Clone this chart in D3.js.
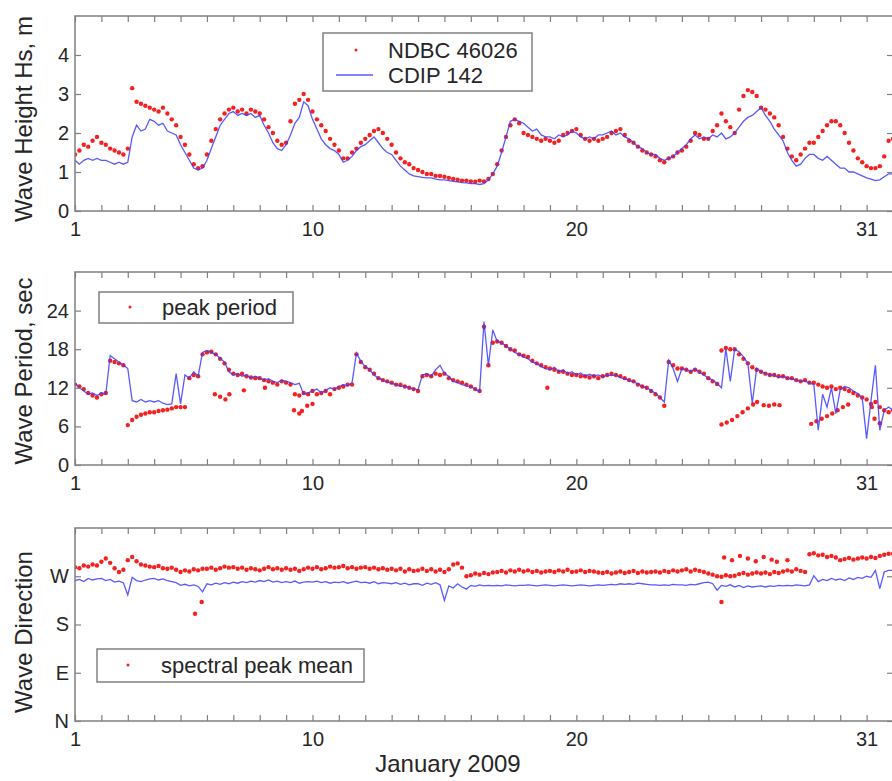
<!DOCTYPE html>
<html>
<head>
<meta charset="utf-8">
<script src="https://cdn.jsdelivr.net/npm/d3@7"></script>
<style>
  body { margin: 0; background: #fff; }
  svg { display: block; font-family: "Liberation Sans", Arial, sans-serif; }
</style>
</head>
<body>
<div id="chart"></div>
<script>
// January 2009, values every 4 hours (6 per day) starting Jan 1 00:00
var stepDays = 1 / 6;

// significant wave height, m
var hsNdbc = [
  1.45,1.55,1.7,1.65,1.8,1.9,  1.75,1.7,1.6,1.55,1.5,1.45,  1.6,3.15,2.8,2.75,2.7,2.65,
  2.6,2.55,2.65,2.5,2.35,2.2,  1.9,1.7,1.45,1.2,1.1,1.15,  1.45,1.8,2.1,2.35,2.5,2.6,
  2.65,2.55,2.6,2.5,2.6,2.55,  2.5,2.35,2.15,2.0,1.8,1.7,  1.75,2.3,2.75,2.85,3.0,2.85,
  2.55,2.35,2.2,2.05,1.85,1.7,  1.55,1.35,1.35,1.5,1.6,1.75,  1.85,1.95,2.05,2.1,2.0,1.85,
  1.7,1.5,1.35,1.25,1.2,1.1,  1.05,1.0,0.95,0.95,0.9,0.9,  0.88,0.85,0.82,0.8,0.78,0.78,
  0.76,0.75,0.78,0.76,0.82,0.95,  1.2,1.55,1.9,2.2,2.35,2.25,  2.0,1.95,1.9,1.85,1.8,1.85,
  1.8,1.75,1.8,1.95,2.0,2.05,  2.1,1.95,1.85,1.8,1.85,1.8,  1.85,1.9,2.0,2.05,2.1,1.95,
  1.8,1.75,1.65,1.55,1.5,1.45,  1.4,1.3,1.25,1.35,1.4,1.5,  1.55,1.65,1.8,2.0,1.95,1.85,
  1.85,2.05,2.2,2.5,2.3,2.15,  2.0,2.6,2.95,3.1,3.05,2.95,  2.65,2.6,2.5,2.4,2.2,1.9,
  1.6,1.4,1.3,1.45,1.6,1.75,  1.75,1.9,2.05,2.2,2.3,2.3,  2.2,2.0,1.75,1.55,1.35,1.25,
  1.15,1.1,1.1,1.15,1.4,1.8,  1.85
];
var hsCdip = [
  1.3,1.2,1.3,1.35,1.3,1.35,  1.3,1.3,1.25,1.2,1.25,1.2,  1.25,1.9,2.2,2.05,2.1,2.35,
  2.3,2.2,2.25,2.05,2.0,1.95,  1.7,1.5,1.3,1.1,1.05,1.1,  1.3,1.6,1.9,2.2,2.35,2.5,
  2.55,2.45,2.5,2.45,2.5,2.4,  2.45,2.2,2.0,1.75,1.6,1.55,  1.7,1.95,2.25,2.4,2.8,2.7,
  2.35,2.1,1.85,1.7,1.6,1.55,  1.45,1.25,1.3,1.4,1.55,1.65,  1.7,1.8,1.9,1.75,1.6,1.5,
  1.45,1.3,1.15,1.05,0.95,0.9,  0.88,0.86,0.85,0.85,0.82,0.8,  0.8,0.78,0.76,0.75,0.73,0.72,
  0.7,0.7,0.68,0.7,0.8,0.95,  1.15,1.5,1.9,2.3,2.35,2.3,  2.25,2.15,2.05,2.1,1.95,1.9,
  1.9,1.85,1.95,1.9,1.95,2.05,  2.0,1.9,1.85,1.9,1.85,1.95,  1.95,2.0,2.05,1.95,2.0,1.9,
  1.85,1.75,1.65,1.6,1.5,1.45,  1.45,1.35,1.3,1.35,1.4,1.5,  1.6,1.7,1.85,1.95,1.85,1.9,
  1.85,1.95,1.9,2.0,1.85,1.9,  2.0,2.15,2.3,2.4,2.45,2.55,  2.65,2.45,2.3,2.1,1.95,1.8,
  1.5,1.3,1.15,1.2,1.35,1.45,  1.45,1.35,1.3,1.4,1.3,1.2,  1.1,1.1,1.0,1.0,0.95,0.9,
  0.85,0.82,0.78,0.8,0.88,0.95,  0.95
];

// peak period, sec
var tpNdbc = [
  12.5,12.2,11.8,11.2,10.8,10.5,  11.0,11.2,16.2,16.0,15.8,15.5,  6.2,7.0,7.5,7.8,8.0,8.2,
  8.2,8.4,8.5,8.6,8.8,9.0,  9.0,9.0,13.5,14.0,13.8,17.2,  17.5,17.6,17.2,16.5,15.8,14.8,
  14.2,14.0,14.2,13.8,13.6,13.5,  13.5,13.2,13.0,12.8,12.5,13.0,  12.8,12.5,11.0,10.8,11.2,11.0,
  11.5,11.0,11.2,11.5,11.0,11.8,  12.0,12.2,12.5,12.5,17.2,16.0,  15.2,14.8,14.2,13.5,13.2,13.0,
  12.8,12.5,12.5,12.2,12.0,11.8,  11.5,13.8,14.0,13.8,14.2,14.0,  14.2,13.5,13.2,13.0,12.8,12.5,
  12.2,11.8,11.5,21.5,15.5,19.0,  19.2,19.0,18.5,18.0,17.8,17.2,  17.0,16.8,16.2,15.8,15.5,15.2,
  15.0,14.8,14.5,14.5,14.2,14.0,  14.0,13.8,13.8,13.6,13.8,13.5,  13.8,14.0,14.2,14.0,13.8,13.5,
  13.2,13.0,12.5,12.2,12.0,11.5,  11.0,10.5,9.2,16.0,15.5,15.0,  15.0,14.8,14.5,14.8,14.5,14.2,
  13.5,13.0,12.6,17.8,18.2,18.0,  18.0,17.2,16.5,15.8,15.2,14.8,  14.5,14.2,14.0,14.0,13.8,13.8,
  13.5,13.5,13.2,13.0,13.2,12.8,  12.8,12.5,12.2,12.0,12.2,11.8,  12.0,11.8,11.5,11.2,10.8,10.5,
  10.2,9.5,9.8,9.0,8.5,8.2,  8.5
];
var tpNdbcExtra = [
  [6.3,11.0],[6.5,10.6],[6.7,10.2],[6.85,11.0],[7.4,11.6],[8.2,12.0],
  [9.3,8.5],[9.5,8.0],[9.6,8.4],[9.8,9.2],[10.0,9.5],[18.9,12.0],
  [25.5,6.3],[25.7,6.6],[25.9,7.0],[26.1,7.6],[26.3,8.2],[26.5,8.8],[26.7,9.4],[26.85,9.8],
  [27.1,9.3],[27.3,9.2],[27.5,9.4],[27.7,9.3],
  [28.9,6.4],[29.1,6.8],[29.3,7.2],[29.5,7.6],[29.7,8.0],[29.9,8.5],[30.1,9.0],[30.3,9.4],
  [31.2,9.0],[31.3,7.2],[31.5,6.5]
];
var tpCdip = [
  12.8,12.0,11.5,11.0,11.2,10.8,  11.2,11.0,17.0,16.5,16.0,15.5,  15.0,10.0,9.8,10.2,9.8,10.0,
  9.8,10.0,9.6,9.4,9.5,14.2,  9.5,14.0,13.5,14.5,13.8,17.5,  17.8,17.5,17.2,16.6,16.0,14.5,
  14.0,14.2,13.8,14.0,13.5,13.8,  13.5,13.2,13.4,13.0,12.8,13.2,  13.0,12.8,12.5,12.7,11.0,11.2,
  11.5,11.8,11.2,11.6,12.0,11.8,  12.2,12.5,12.3,12.8,17.4,16.1,  15.3,14.8,14.0,13.5,13.2,12.9,
  12.7,12.5,12.2,12.3,12.0,11.8,  11.7,14.0,14.2,13.8,14.8,15.5,  14.2,13.8,13.0,12.8,12.5,12.3,
  12.2,11.8,11.4,22.3,15.5,21.0,  19.2,19.0,18.5,18.0,17.5,17.2,  16.8,16.5,16.0,15.8,15.3,15.0,
  14.8,15.2,14.5,14.8,14.2,14.5,  14.0,14.3,13.8,14.1,13.8,14.0,  13.7,14.0,13.9,14.0,13.6,13.4,
  13.2,12.9,12.6,12.2,12.0,11.6,  11.1,10.5,9.8,16.3,15.0,13.0,  15.0,14.8,14.5,15.0,14.4,14.0,
  13.5,13.2,12.7,12.0,18.1,13.0,  18.0,17.6,16.8,15.8,9.6,15.0,  14.5,14.2,14.0,14.0,13.6,13.8,
  13.5,13.4,13.2,13.1,13.0,12.8,  12.5,5.4,11.0,9.0,12.0,8.0,  11.7,12.2,12.0,11.5,11.1,10.4,
  4.1,10.0,15.5,5.4,8.5,9.0,  8.5
];

// direction, degrees from north
var dirNdbc = [
  287,285,290,288,292,290,  297,303,295,285,278,282,  300,306,298,292,290,288,
  287,289,285,284,286,282,  278,281,279,283,281,284,  284,286,282,285,288,286,
  287,284,286,282,285,283,  281,284,287,283,285,282,  285,282,284,280,283,286,
  284,287,283,285,288,286,  287,289,285,287,284,286,  287,284,286,283,285,282,
  284,281,284,279,283,280,  281,284,280,283,279,282,  278,283,292,294,286,270,
  272,275,273,276,274,277,  278,280,277,281,279,282,  279,281,278,280,277,279,
  280,278,281,279,282,278,  279,281,278,280,279,277,  276,278,275,277,279,276,
  278,280,276,279,277,278,  279,277,280,278,281,279,  281,283,279,282,280,278,
  275,273,270,269,272,270,  271,274,276,273,275,277,  275,277,274,278,276,279,
  281,279,283,280,278,311,  313,309,310,306,308,305,  300,302,304,301,303,305,
  303,306,304,308,310,312,  312
];
var dirNdbcExtra = [
  [5.55,200],[5.8,222],[25.5,222],
  [25.6,305],[25.9,300],[26.2,308],[26.5,303],[26.8,298],[27.1,306],[27.4,301],[27.6,297],[28.0,300]
];
var dirCdip = [
  262,264,260,266,263,265,  266,262,264,259,261,258,  235,268,262,260,263,265,
  266,263,265,262,260,258,  253,255,252,254,251,241,  256,254,257,255,258,256,
  259,257,260,258,261,259,  262,260,263,259,261,258,  260,258,261,257,259,260,
  259,261,258,260,257,259,  258,260,257,259,261,258,  259,257,260,256,258,257,
  256,258,255,257,254,256,  256,253,257,255,258,254,  225,252,248,256,250,246,
  253,251,254,252,253,252,  253,252,254,253,252,253,  253,254,253,252,253,254,
  253,252,253,254,253,252,  253,254,253,252,253,254,  253,254,255,254,256,255,
  256,255,257,256,255,254,  254,253,254,253,255,254,  254,253,255,254,256,258,
  259,256,244,253,251,254,  250,253,249,252,250,251,  252,250,252,251,253,252,
  253,252,254,253,252,254,  271,260,264,262,266,263,  265,262,267,264,268,266,
  270,268,281,247,278,281,  281
];

var dayTicks = d3.range(1, 33);
var dayLabels = [1, 10, 20, 31];
var dirTicks = [0, 90, 180, 270];
var dirNames = ["N", "E", "S", "W"];

var W = 892, H = 781;
var red = "#f52020", blue = "#3c3cff", frame = "#808080", ink = "#262626";

var svg = d3.select("#chart").append("svg").attr("width", W).attr("height", H);

var x = d3.scaleLinear().domain([1, 32]).range([75, 893]);

function days(arr) { return arr.map(function(v, i){ return [1 + i * stepDays, v]; }); }

var panels = [
  { top: 16, bottom: 211, domain: [0, 5], ticks: [0,1,2,3,4], fmt: d3.format("d"),
    label: "Wave Height Hs, m", labelY: 119, red: days(hsNdbc), blue: days(hsCdip), extra: [] },
  { top: 272, bottom: 465, domain: [0, 30], ticks: [0,6,12,18,24], fmt: d3.format("d"),
    label: "Wave Period, sec", labelY: 371, red: days(tpNdbc), blue: days(tpCdip), extra: tpNdbcExtra },
  { top: 528, bottom: 721, domain: [0, 360], ticks: dirTicks,
    fmt: function(d){ return dirNames[dirTicks.indexOf(d)]; },
    label: "Wave Direction", labelY: 632, red: days(dirNdbc), blue: days(dirCdip), extra: dirNdbcExtra }
];

svg.append("defs").append("clipPath").attr("id", "clip")
  .append("rect").attr("x", 75).attr("y", 0).attr("width", 818).attr("height", H);

panels.forEach(function(p, k){
  var y = d3.scaleLinear().domain(p.domain).range([p.bottom, p.top]);
  var g = svg.append("g");

  // data
  var plot = g.append("g").attr("clip-path", "url(#clip)");
  plot.selectAll("circle.r")
    .data(p.red.concat(p.extra))
    .enter().append("circle")
    .attr("class", "r")
    .attr("cx", function(d){ return x(d[0]); })
    .attr("cy", function(d){ return y(d[1]); })
    .attr("r", 2.2)
    .attr("fill", red);

  var line = d3.line()
    .x(function(d){ return x(d[0]); })
    .y(function(d){ return y(d[1]); });
  plot.append("path")
    .datum(p.blue)
    .attr("d", line)
    .attr("fill", "none")
    .attr("stroke", blue)
    .attr("stroke-width", 1.3)
    .attr("stroke-opacity", 0.85);

  // axes, ticks point inward
  var bottom = g.append("g").attr("transform", "translate(0," + p.bottom + ")")
    .call(d3.axisBottom(x).tickValues(dayTicks).tickSize(-6).tickPadding(11)
      .tickFormat(function(d){ return dayLabels.indexOf(d) >= 0 ? d : ""; }));
  var top = g.append("g").attr("transform", "translate(0," + p.top + ")")
    .call(d3.axisTop(x).tickValues(dayTicks).tickSize(-6).tickFormat(""));
  var left = g.append("g").attr("transform", "translate(75,0)")
    .call(d3.axisLeft(y).tickValues(p.ticks).tickSize(-6).tickPadding(6).tickFormat(p.fmt));
  var right = g.append("g").attr("transform", "translate(893,0)")
    .call(d3.axisRight(y).tickValues(p.ticks).tickSize(-6).tickFormat(""));

  [bottom, top, left, right].forEach(function(a){
    a.select(".domain").remove();
    a.selectAll(".tick line").attr("stroke", frame).attr("stroke-width", 1.2);
    a.selectAll("text").attr("fill", ink).style("font-size", "20px");
  });

  g.append("rect")
    .attr("x", 75).attr("y", p.top)
    .attr("width", 818).attr("height", p.bottom - p.top)
    .attr("fill", "none").attr("stroke", frame).attr("stroke-width", 1.5);

  g.append("text")
    .attr("transform", "translate(32," + p.labelY + ") rotate(-90)")
    .attr("text-anchor", "middle")
    .attr("fill", ink)
    .style("font-size", "24px")
    .text(p.label);
});

svg.append("text")
  .attr("x", 448).attr("y", 772)
  .attr("text-anchor", "middle")
  .attr("fill", ink)
  .style("font-size", "24px")
  .text("January 2009");

// legends
function legendBox(x0, y0, w, h) {
  svg.append("rect").attr("x", x0).attr("y", y0).attr("width", w).attr("height", h)
    .attr("fill", "#fff").attr("stroke", frame).attr("stroke-width", 1.5);
}
function legendText(tx, ty, s) {
  svg.append("text").attr("x", tx).attr("y", ty).attr("fill", ink)
    .style("font-size", "22px").text(s);
}

legendBox(323, 33, 209, 58);
svg.append("circle").attr("cx", 356).attr("cy", 50).attr("r", 1.5).attr("fill", red);
legendText(388, 58, "NDBC 46026");
svg.append("line").attr("x1", 336).attr("x2", 373).attr("y1", 75).attr("y2", 75)
  .attr("stroke", blue).attr("stroke-width", 1.3).attr("stroke-opacity", 0.85);
legendText(388, 83, "CDIP 142");

legendBox(99, 292, 194, 31);
svg.append("circle").attr("cx", 130).attr("cy", 307).attr("r", 1.5).attr("fill", red);
legendText(162, 315, "peak period");

legendBox(97, 649, 267, 33);
svg.append("circle").attr("cx", 128).attr("cy", 665).attr("r", 1.5).attr("fill", red);
legendText(161, 673, "spectral peak mean");
</script>
</body>
</html>
